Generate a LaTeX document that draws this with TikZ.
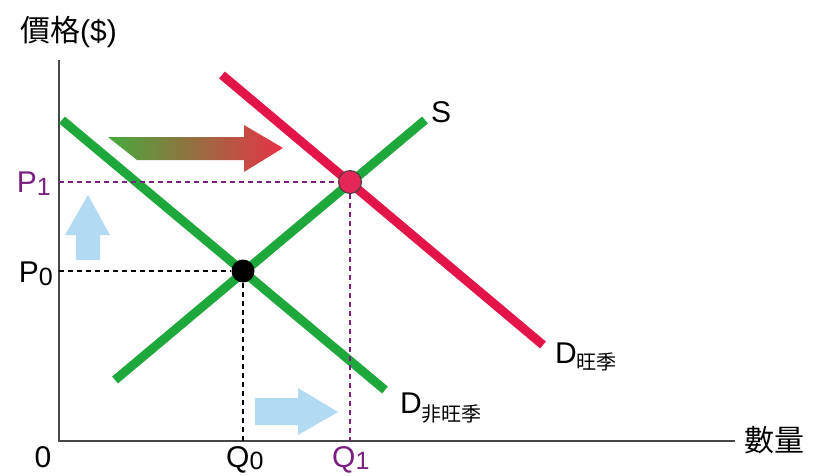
\documentclass[tikz,border=0pt]{standalone}
\usepackage{fontspec}
\setmainfont{Liberation Sans}
\newfontfamily\cjk{Noto Sans CJK TC}
\definecolor{lgreen}{RGB}{30,168,60}
\definecolor{lred}{RGB}{226,20,72}
\definecolor{lpurple}{RGB}{122,32,128}
\definecolor{lblue}{RGB}{178,218,242}
\definecolor{axgray}{RGB}{70,70,70}
\definecolor{agreen}{RGB}{70,170,60}
\definecolor{ared}{RGB}{232,50,70}
\tikzset{
  curve/.style={line width=9pt},
  axisline/.style={draw=axgray,line width=2pt},
  guide/.style={line width=1.3pt,dash pattern=on 5pt off 4pt},
  lbl/.style={inner sep=0pt,font=\fontsize{30}{30}\selectfont},
  dot/.style={circle,inner sep=0pt,minimum size=23pt,line width=1pt},
  bluearrow/.style={fill=lblue,draw=none}
}
\begin{document}
\begin{tikzpicture}[x=1pt,y=-1pt]
\useasboundingbox (0,0) rectangle (819,475);
% coordinates
\coordinate (O) at (59,441);
\coordinate (ytop) at (59,60);
\coordinate (xend) at (735,441);
\coordinate (dn1) at (62,120);
\coordinate (dn2) at (385,390);
\coordinate (s1) at (115,380);
\coordinate (s2) at (425,120);
\coordinate (dp1) at (222,75);
\coordinate (dp2) at (543,345);
\coordinate (p1ax) at (59,182);
\coordinate (p0ax) at (59,271);
\coordinate (q0ax) at (243,441);
\coordinate (q1ax) at (350,441);
% axes
\draw[axisline] (ytop) -- (O) -- (xend);
% arrows
\shade[left color=agreen,right color=ared] (108,137) -- (244,137) -- (244,125) -- (283,148) -- (244,172) -- (244,160) -- (137,160) -- cycle;
\fill[bluearrow] (76,260) -- (76,235) -- (65,235) -- (88,195) -- (110,235) -- (100,235) -- (100,260) -- cycle;
\fill[bluearrow] (255,398) -- (298,398) -- (298,388) -- (338,412) -- (298,435) -- (298,425) -- (255,425) -- cycle;
% curves
\draw[curve,lgreen] (dn1) -- (dn2);
\draw[curve,lred] (dp1) -- (dp2);
\draw[curve,lgreen] (s1) -- (s2);
% equilibrium points
\node[dot,fill=black] (e0) at (243,271) {};
\node[dot,fill=lred!92!white,draw=black!75] (e1) at (350,182) {};
% guides
\draw[guide,black] (p0ax) -- (e0.west);
\draw[guide,black] (e0.south) -- (q0ax);
\draw[guide,lpurple] (p1ax) -- (e1.west);
\draw[guide,lpurple] (e1.south) -- (q1ax);
% labels
\node[lbl,anchor=base west] (ylab) at (20,41) {\cjk 價格\rmfamily(\$)};
\node[lbl,anchor=west] (xlab) at (744,440) {\cjk 數量};
\node[lbl,anchor=base east,text=lpurple] (P1) at (51,192) {P\raisebox{-3pt}{\fontsize{25}{25}\selectfont 1}};
\node[lbl,anchor=base east] (P0) at (53,282) {P\raisebox{-3pt}{\fontsize{25}{25}\selectfont 0}};
\node[lbl,anchor=base] (zero) at (43,467) {0};
\node[lbl,anchor=base west] (Q0) at (226,467) {Q\raisebox{-2pt}{\fontsize{25}{25}\selectfont 0}};
\node[lbl,anchor=base west,text=lpurple] (Q1) at (332,467) {Q\raisebox{-2pt}{\fontsize{25}{25}\selectfont 1}};
\node[lbl,anchor=base west] (S) at (431,122) {S};
\node[lbl,anchor=base west] (Dp) at (555,363) {D\raisebox{-6pt}{\cjk\fontsize{20}{20}\selectfont 旺季}};
\node[lbl,anchor=base west] (Dn) at (400,413) {D\raisebox{-8pt}{\cjk\fontsize{20}{20}\selectfont 非旺季}};
\end{tikzpicture}
\end{document}
